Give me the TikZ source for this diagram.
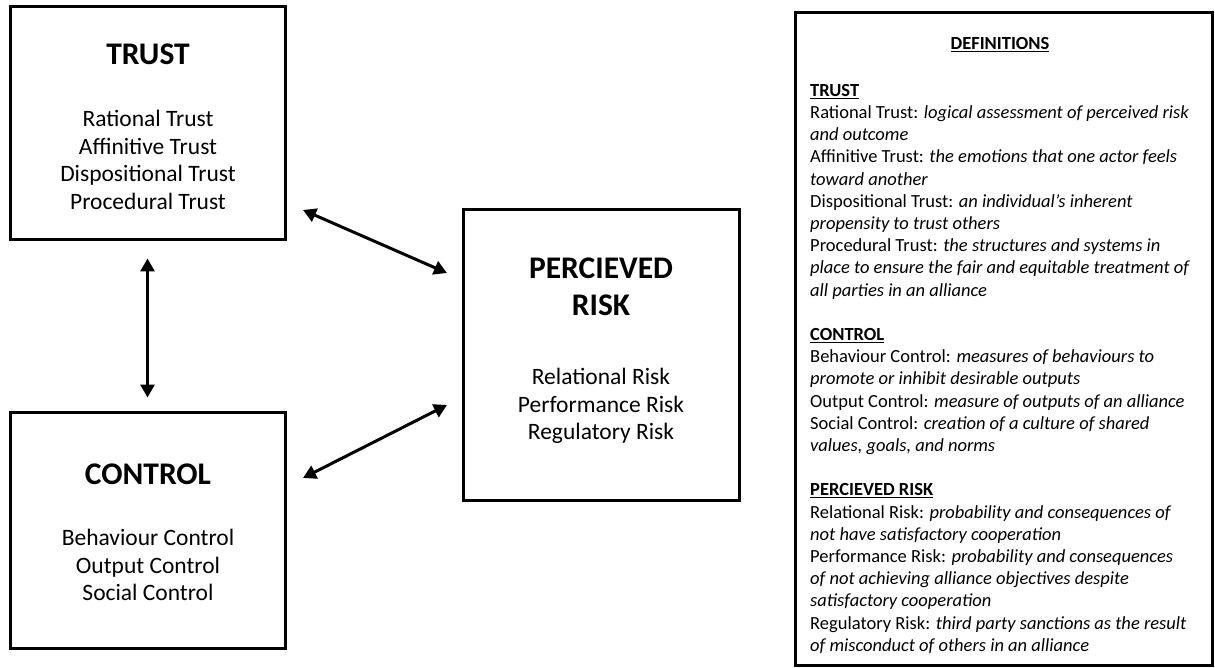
\documentclass[tikz,border=0pt]{standalone}
\usepackage{fontspec}
\setmainfont{Carlito}
\usetikzlibrary{arrows.meta}

\tikzset{
  frame/.style={draw=black, line width=3pt, inner sep=0pt},
  boxtitle/.style={font=\fontsize{31.5}{37}\selectfont\bfseries, align=center, inner sep=0pt},
  boxitems/.style={font=\fontsize{23.5}{27.7}\selectfont, align=center, inner sep=0pt},
  link/.style={line width=3pt, {Triangle[length=13pt,width=14pt]}-{Triangle[length=13pt,width=14pt]}},
  defline/.style={font=\fontsize{18.5}{22.2}\selectfont, align=left, inner sep=0pt},
}

\begin{document}
\begin{tikzpicture}[x=1pt, y=-1pt]
  \useasboundingbox (0,0) rectangle (1215,668);

  % the three concept boxes
  \node[frame, minimum width=275pt, minimum height=233pt] (trust) at (147.5,123.5) {};
  \node[frame, minimum width=275pt, minimum height=236pt] (control) at (147.5,530) {};
  \node[frame, minimum width=276pt, minimum height=290pt] (risk) at (601,355) {};

  % box contents
  \node[boxtitle] (trustT) at (148,54) {TRUST};
  \node[boxitems] (trustI) at (148,160) {Rational Trust\\Affinitive Trust\\Dispositional Trust\\Procedural Trust};

  \node[boxtitle] (controlT) at (148,474) {CONTROL};
  \node[boxitems] (controlI) at (148,565) {Behaviour Control\\Output Control\\Social Control};

  \node[boxtitle] (riskT) at (601,287) {PERCIEVED\\RISK};
  \node[boxitems] (riskI) at (601,406) {Relational Risk\\Performance Risk\\Regulatory Risk};

  % two-way links
  \coordinate (tA) at (303,210);
  \coordinate (rA) at (447,273);
  \coordinate (rB) at (447,405);
  \coordinate (cB) at (303,478);
  \draw[link] (tA) -- (rA);
  \draw[link] (rB) -- (cB);
  \draw[link, shorten <=17pt, shorten >=13pt] (trust.south) -- (control.north);

  % definitions panel
  \node[frame, minimum width=417pt, minimum height=652pt] (defbox) at (1003.5,339) {};
  \node[defline, font=\fontsize{18.5}{22.2}\selectfont\bfseries] (defT) at (1000,45) {\underline{DEFINITIONS}};
  \node[defline, anchor=north west] (defs) at (810,84) {%
    \textbf{\underline{TRUST}}\\
    Rational Trust: \textit{logical assessment of perceived risk}\\
    \textit{and outcome}\\
    Affinitive Trust: \textit{the emotions that one actor feels}\\
    \textit{toward another}\\
    Dispositional Trust: \textit{an individual’s inherent}\\
    \textit{propensity to trust others}\\
    Procedural Trust: \textit{the structures and systems in}\\
    \textit{place to ensure the fair and equitable treatment of}\\
    \textit{all parties in an alliance}\\[22.2pt]
    \textbf{\underline{CONTROL}}\\
    Behaviour Control: \textit{measures of behaviours to}\\
    \textit{promote or inhibit desirable outputs}\\
    Output Control: \textit{measure of outputs of an alliance}\\
    Social Control: \textit{creation of a culture of shared}\\
    \textit{values, goals, and norms}\\[22.2pt]
    \textbf{\underline{PERCIEVED RISK}}\\
    Relational Risk: \textit{probability and consequences of}\\
    \textit{not have satisfactory cooperation}\\
    Performance Risk: \textit{probability and consequences}\\
    \textit{of not achieving alliance objectives despite}\\
    \textit{satisfactory cooperation}\\
    Regulatory Risk: \textit{third party sanctions as the result}\\
    \textit{of misconduct of others in an alliance}};
\end{tikzpicture}
\end{document}
